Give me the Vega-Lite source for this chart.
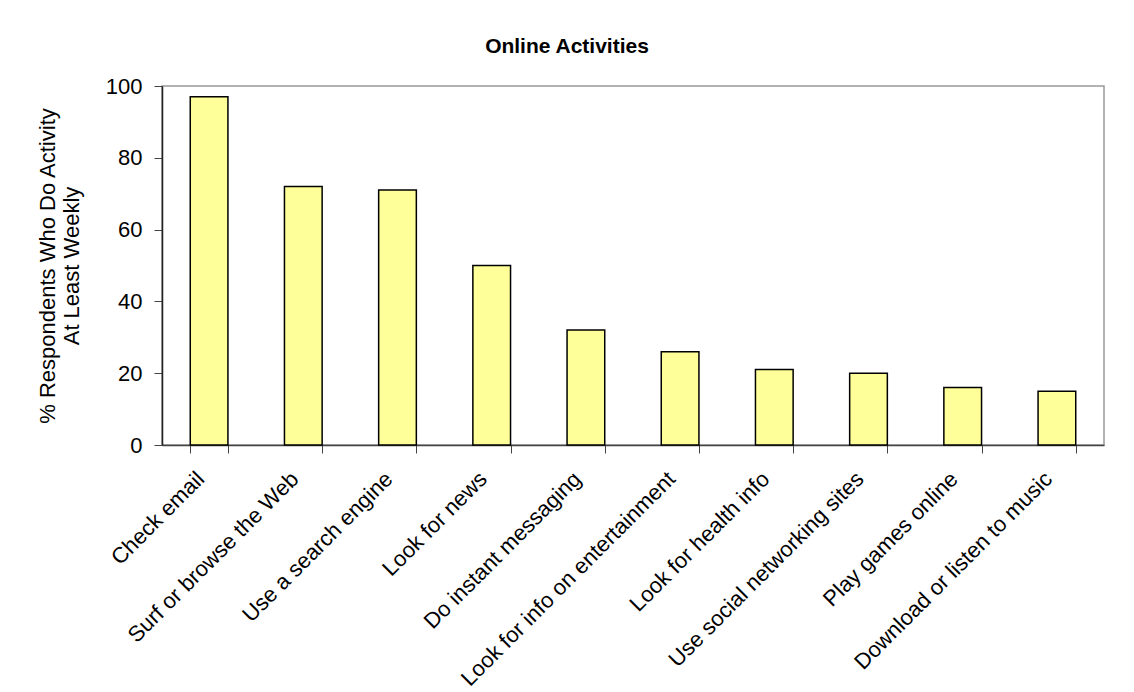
{
  "$schema": "https://vega.github.io/schema/vega-lite/v6.json",
  "autosize": {"type": "none"},
  "width": 942,
  "height": 359,
  "padding": {"left": 162, "top": 86, "right": 30, "bottom": 247},
  "background": "white",
  "title": {
    "text": "Online Activities",
    "font": "Liberation Sans",
    "fontSize": 21,
    "fontWeight": "bold",
    "color": "black",
    "anchor": "middle",
    "dx": -66,
    "offset": 18
  },
  "data": {
    "values": [
      {"activity": "Check email", "pct": 97},
      {"activity": "Surf or browse the Web", "pct": 72},
      {"activity": "Use a search engine", "pct": 71},
      {"activity": "Look for news", "pct": 50},
      {"activity": "Do instant messaging", "pct": 32},
      {"activity": "Look for info on entertainment", "pct": 26},
      {"activity": "Look for health info", "pct": 21},
      {"activity": "Use social networking sites", "pct": 20},
      {"activity": "Play games online", "pct": 16},
      {"activity": "Download or listen to music", "pct": 15}
    ]
  },
  "mark": {"type": "bar", "fill": "#FFFF99", "stroke": "black", "strokeWidth": 1.5},
  "encoding": {
    "x": {
      "field": "activity",
      "type": "nominal",
      "sort": null,
      "scale": {"paddingInner": 0.6, "paddingOuter": 0.3},
      "axis": {
        "title": null,
        "labelAngle": -45,
        "labelFontSize": 22,
        "labelFont": "Liberation Sans",
        "labelColor": "black",
        "labelPadding": 15,
        "labelOffset": -16,
        "labelLimit": 600,
        "tickBand": "extent",
        "tickSize": 8,
        "tickColor": "#444",
        "domainColor": "#444",
        "domainWidth": 1.5
      }
    },
    "y": {
      "field": "pct",
      "type": "quantitative",
      "scale": {"domain": [0, 100]},
      "axis": {
        "title": ["% Respondents Who Do Activity", "At Least Weekly"],
        "titleFont": "Liberation Sans",
        "titleFontSize": 22,
        "titleFontWeight": "normal",
        "titleColor": "black",
        "titlePadding": 22,
        "values": [0, 20, 40, 60, 80, 100],
        "grid": false,
        "labelFontSize": 22,
        "labelFont": "Liberation Sans",
        "labelColor": "black",
        "labelPadding": 12,
        "tickSize": 8,
        "tickColor": "#444",
        "domainColor": "#222",
        "domainWidth": 1.5
      }
    }
  },
  "config": {
    "view": {"stroke": "#999999", "strokeWidth": 1.5}
  }
}
